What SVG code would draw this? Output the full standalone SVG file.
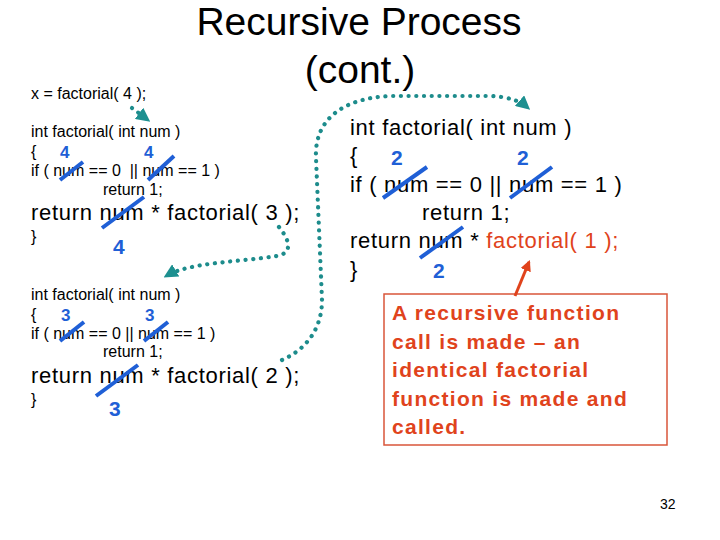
<svg xmlns="http://www.w3.org/2000/svg" width="720" height="540" viewBox="0 0 720 540">
<defs>
<style>
text{font-family:"Liberation Sans",Arial,sans-serif;fill:#000}
.title{font-size:39px}
.sm{font-size:16px}
.big{font-size:22px;letter-spacing:0.7px}
.bn{font-weight:bold;fill:#1f5fd6}
.n16{font-size:17px}
.n20{font-size:21px}
.red{fill:#e0431c}
.note{font-size:21px;font-weight:bold;letter-spacing:1.3px;fill:#e0431c}
.slash{stroke:#1f5fd6;stroke-width:4;fill:none}
.dots{fill:none;stroke:#1d8c8c;stroke-width:4.2;stroke-linecap:round;stroke-dasharray:0.1 7.6}
</style>
<marker id="ta" viewBox="0 0 10 10" refX="8" refY="5" markerWidth="14" markerHeight="14" markerUnits="userSpaceOnUse" orient="auto">
<path d="M0,0 L10,5 L0,10 z" fill="#1d9090"/>
</marker>
<marker id="ra" viewBox="0 0 10 10" refX="8" refY="5" markerWidth="11" markerHeight="11" markerUnits="userSpaceOnUse" orient="auto">
<path d="M0,0 L10,5 L0,10 z" fill="#e0431c"/>
</marker>
</defs>
<rect width="720" height="540" fill="#fff"/>

<g id="title">
<text class="title" x="359" y="35" text-anchor="middle">Recursive Process</text>
<text class="title" x="360" y="83" text-anchor="middle">(cont.)</text>
</g>

<g id="call">
<text class="sm" x="31" y="99">x = factorial( 4 );</text>
</g>

<g id="block1">
<text class="sm" x="31" y="137">int factorial( int num )</text>
<text class="sm" x="31" y="157">{</text>
<text class="sm" x="31" y="176" xml:space="preserve">if ( num == 0  || num == 1 )</text>
<text class="sm" x="103" y="195">return 1;</text>
<text class="big" x="31" y="220">return num * factorial( 3 );</text>
<text class="sm" x="31" y="242">}</text>
<text class="bn n16" x="60" y="158">4</text>
<text class="bn n16" x="144" y="158">4</text>
<text class="bn n20" x="113" y="254">4</text>
<line class="slash" x1="60" y1="180" x2="83" y2="162"/>
<line class="slash" x1="148" y1="180" x2="174" y2="156"/>
<line class="slash" x1="102" y1="228" x2="144" y2="197"/>
</g>

<g id="block2">
<text class="sm" x="31" y="300">int factorial( int num )</text>
<text class="sm" x="31" y="320">{</text>
<text class="sm" x="31" y="339">if ( num == 0 || num == 1 )</text>
<text class="sm" x="103" y="357">return 1;</text>
<text class="big" x="31" y="383">return num * factorial( 2 );</text>
<text class="sm" x="31" y="405">}</text>
<text class="bn n16" x="61" y="321">3</text>
<text class="bn n16" x="145" y="321">3</text>
<text class="bn n20" x="109" y="416">3</text>
<line class="slash" x1="60" y1="341" x2="84" y2="322"/>
<line class="slash" x1="144" y1="341" x2="168" y2="322"/>
<line class="slash" x1="96" y1="396" x2="138" y2="365"/>
</g>

<g id="block3">
<text class="big" x="350" y="135">int factorial( int num )</text>
<text class="big" x="350" y="163">{</text>
<text class="big" x="350" y="192">if ( num == 0 || num == 1 )</text>
<text class="big" x="422" y="220">return 1;</text>
<text class="big" x="350" y="248">return num * <tspan class="red">factorial( 1 );</tspan></text>
<text class="big" x="350" y="277">}</text>
<text class="bn n20" x="391" y="165">2</text>
<text class="bn n20" x="517" y="165">2</text>
<text class="bn n20" x="433" y="278">2</text>
<line class="slash" x1="383" y1="198" x2="427" y2="167"/>
<line class="slash" x1="510" y1="198" x2="552" y2="167"/>
<line class="slash" x1="420" y1="258" x2="463" y2="227"/>
</g>

<g id="note">
<rect x="384" y="294" width="283" height="151" fill="none" stroke="#d9553a" stroke-width="1.5"/>
<text class="note" x="392" y="320">A recursive function</text>
<text class="note" x="392" y="349">call is made – an</text>
<text class="note" x="392" y="377">identical factorial</text>
<text class="note" x="392" y="406">function is made and</text>
<text class="note" x="392" y="434">called.</text>
</g>

<g id="connectors">
<path class="dots" d="M132,108 L148,120" marker-end="url(#ta)"/>
<path class="dots" d="M279,227 C291,242 292,253 277,256 C240,262 190,262 166,276" marker-end="url(#ta)"/>
<path class="dots" d="M282,360 C305,350 322,330 322,300 L316,158 C314,118 345,98 390,96 L490,96 C510,97 520,101 528,108" marker-end="url(#ta)"/>
<line x1="515" y1="296" x2="529" y2="262" stroke="#e0431c" stroke-width="3" marker-end="url(#ra)"/>
</g>

<g id="page">
<text class="sm" x="660" y="509" style="font-size:14px">32</text>
</g>
</svg>
